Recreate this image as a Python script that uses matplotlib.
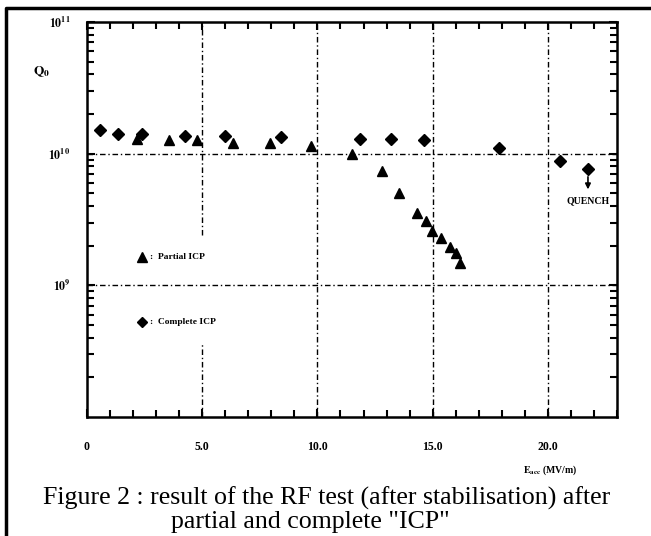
import matplotlib
matplotlib.use("Agg")
import matplotlib.pyplot as plt
from matplotlib.ticker import FixedLocator, LogLocator, NullFormatter, FixedFormatter
from matplotlib.lines import Line2D

# Data (Eacc in MV/m, Q0)
partial_x = [2.16, 3.56, 4.78, 6.34, 7.94, 9.74, 11.52, 12.81, 13.54, 14.30, 14.69, 14.99, 15.35, 15.77, 16.01, 16.17]
partial_q = [1.30e10, 1.27e10, 1.26e10, 1.20e10, 1.20e10, 1.15e10, 1.00e10, 7.4e9, 5.07e9, 3.54e9, 3.07e9, 2.58e9, 2.30e9, 1.96e9, 1.76e9, 1.48e9]

complete_x = [0.56, 1.36, 2.37, 4.25, 5.98, 8.40, 11.84, 13.21, 14.63, 17.88, 20.51, 21.74]
complete_q = [1.52e10, 1.41e10, 1.41e10, 1.37e10, 1.37e10, 1.35e10, 1.30e10, 1.30e10, 1.26e10, 1.10e10, 8.8e9, 7.7e9]

x_ticks = [0, 5, 10, 15, 20]
x_tick_labels = ["0", "5.0", "10.0", "15.0", "20.0"]
y_ticks = [1e9, 1e10, 1e11]
y_tick_labels = [r"$\mathbf{10^{9}}$", r"$\mathbf{10^{10}}$", r"$\mathbf{10^{11}}$"]

plt.rcParams['font.family'] = ['Liberation Serif', 'DejaVu Serif']
plt.rcParams['mathtext.fontset'] = 'stix'

W, H = 651, 536
fig = plt.figure(figsize=(W / 100, H / 100), dpi=100)
ax = fig.add_axes([87 / W, 1 - 417 / H, (617 - 87) / W, (417 - 22) / H])

ax.set_yscale('log')
ax.set_xlim(0, 23)
ax.set_ylim(1e8, 1e11)

# grid lines
grid_kw = dict(color='black', lw=1.0, ls='-.', dashes=(4, 2, 1, 2), zorder=1)
ax.axvline(5, ymin=0.0, ymax=0.187, **grid_kw)
ax.axvline(5, ymin=0.461, ymax=1.0, **grid_kw)
for xv in [10, 15, 20]:
    ax.axvline(xv, **grid_kw)
for yv in [1e9, 1e10]:
    ax.axhline(yv, **grid_kw)

ax.plot(partial_x, partial_q, ls='none', marker='^', ms=7.5, color='black', zorder=3)
ax.plot(complete_x, complete_q, ls='none', marker='D', ms=6, color='black', zorder=3)

ax.xaxis.set_major_locator(FixedLocator(x_ticks))
ax.xaxis.set_major_formatter(FixedFormatter(x_tick_labels))
ax.xaxis.set_minor_locator(FixedLocator(list(range(0, 24))))
ax.yaxis.set_major_locator(FixedLocator(y_ticks))
ax.yaxis.set_major_formatter(FixedFormatter(y_tick_labels))
ax.yaxis.set_minor_locator(LogLocator(base=10, subs=range(2, 10)))
ax.yaxis.set_minor_formatter(NullFormatter())

ax.tick_params(which='both', direction='in', top=True, right=True, width=1.5)
ax.tick_params(which='major', length=6)
ax.tick_params(which='minor', length=5)
ax.tick_params(axis='x', which='major', pad=17, labelsize=8.5)
ax.tick_params(axis='y', which='major', pad=12, labelsize=8.5)
for lab in ax.get_xticklabels():
    lab.set_fontweight('bold')
for sp in ax.spines.values():
    sp.set_linewidth(1.8)

# Y label
fig.text(42 / W, 1 - 72 / H, r"$\mathbf{Q_{0}}$", fontsize=9.5, ha='center', va='center')
# X label
fig.text(550 / W, 1 - 470 / H, r"$\mathbf{E_{acc}}$ (MV/m)", fontsize=7, fontweight='bold',
         ha='center', va='center')

# legend (markers + text inside the plot)
fig.add_artist(Line2D([141.7 / W], [1 - 256.7 / H], ls='none', marker='^', ms=7, color='black',
                      transform=fig.transFigure))
fig.text(150 / W, 1 - 257 / H, ":  Partial ICP", fontsize=6.8, fontweight='bold', ha='left', va='center')
fig.add_artist(Line2D([141.7 / W], [1 - 322.3 / H], ls='none', marker='D', ms=5.5, color='black',
                      transform=fig.transFigure))
fig.text(150 / W, 1 - 322 / H, ":  Complete ICP", fontsize=6.8, fontweight='bold', ha='left', va='center')

# QUENCH annotation
ax.annotate("", xy=(21.74, 5.1e9), xytext=(21.74, 7.0e9),
            arrowprops=dict(arrowstyle='-|>', color='black', lw=1.2, mutation_scale=8))
ax.text(21.74, 4.4e9, "QUENCH", fontsize=7, fontweight='bold', ha='center', va='center')

# caption
fig.text(327 / W, 1 - 505 / H, "Figure 2 : result of the RF test (after stabilisation) after",
         fontsize=18.6, ha='center', va='baseline')
fig.text(310 / W, 1 - 528 / H, 'partial and complete "ICP"', fontsize=18.6, ha='center', va='baseline')

# figure border (top and left)
fig.add_artist(Line2D([6 / W, 6 / W, 1.0], [0.0, 1 - 8 / H, 1 - 8 / H], color='black', lw=2.5,
                      transform=fig.transFigure))

fig.savefig("out.png", dpi=100)
